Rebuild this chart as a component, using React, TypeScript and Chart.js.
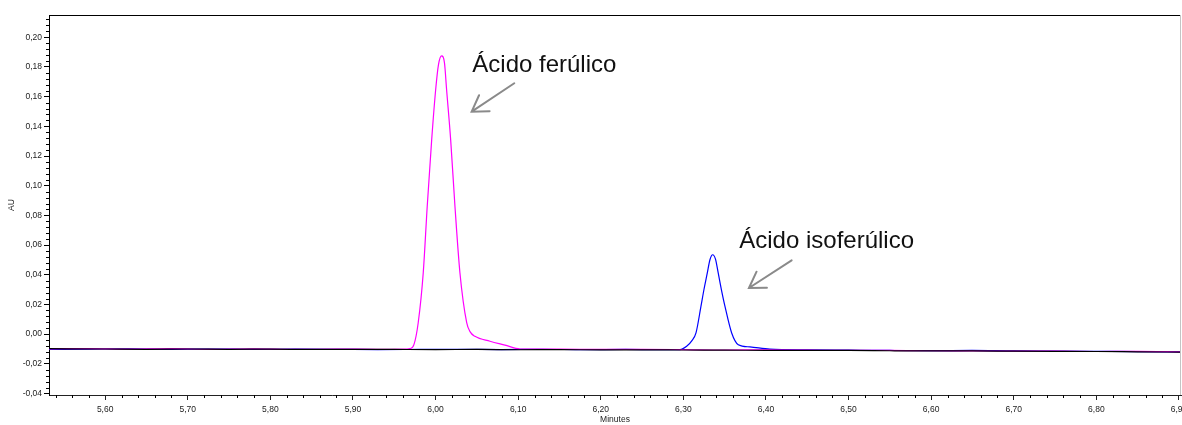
import React, { useEffect, useRef } from 'react';
import { Chart, registerables } from 'chart.js';

Chart.register(...registerables);

// ---- data (minutes, AU) ----
const FERULIC_T = [
  5.532, 5.58, 5.63, 5.68, 5.73, 5.78, 5.83, 5.88, 5.93, 5.965, 5.969, 5.9738,
  5.979, 5.9851, 5.9899, 5.9953, 6.0001, 6.0035, 6.0074, 6.0108, 6.0134, 6.0183,
  6.0235, 6.0295, 6.0377, 6.0417, 6.0477, 6.0659, 6.084, 6.1022, 6.15, 6.2, 6.25,
  6.3, 6.35, 6.4, 6.45, 6.5, 6.55, 6.6, 6.65, 6.7, 6.75, 6.8, 6.85, 6.9025,
];
const FERULIC_V = [
  -0.0099, -0.0097, -0.0101, -0.0098, -0.0102, -0.0099, -0.0103, -0.0101, -0.0102, -0.01, -0.0098, -0.0071,
  0.0077, 0.0414, 0.086, 0.1309, 0.1645, 0.1814, 0.1874, 0.1827, 0.1645, 0.1309,
  0.086, 0.0414, 0.0077, 0.0017, -0.0015, -0.0048, -0.0074, -0.01, -0.0101, -0.0103, -0.0102,
  -0.0104, -0.0107, -0.0106, -0.0108, -0.011, -0.0109, -0.0112, -0.0113, -0.0114, -0.0115, -0.0117, -0.0116, -0.012,
];

const ISOFERULIC_T = [
  5.532, 5.58, 5.63, 5.68, 5.73, 5.78, 5.83, 5.88, 5.93, 5.98, 6.03, 6.08, 6.13, 6.18, 6.23, 6.27,
  6.2959, 6.304, 6.3104, 6.3153, 6.3213, 6.3249, 6.329, 6.3322, 6.3355, 6.3389, 6.3422, 6.3461,
  6.3504, 6.3585, 6.3665, 6.3806, 6.4048, 6.45, 6.5, 6.55, 6.6, 6.65, 6.7, 6.75, 6.8, 6.85, 6.9025,
];
const ISOFERULIC_V = [
  -0.0103, -0.0101, -0.0099, -0.0102, -0.01, -0.0103, -0.0101, -0.0102, -0.0104, -0.0103, -0.0102, -0.0104, -0.0102, -0.0105, -0.0103, -0.0105,
  -0.0104, -0.0082, -0.0044, 0.0008, 0.0187, 0.0299, 0.0412, 0.0501, 0.0535, 0.0505, 0.0412, 0.0299,
  0.0187, 0.0008, -0.0071, -0.0086, -0.0101, -0.0106, -0.0108, -0.011, -0.0111, -0.011, -0.0113, -0.0114, -0.0116, -0.0118, -0.012,
];

const BLANK_T = [
  5.532, 5.6, 5.65, 5.7, 5.75, 5.8, 5.85, 5.9, 5.95, 6.0, 6.05, 6.1, 6.15, 6.2, 6.25, 6.3,
  6.35, 6.4, 6.45, 6.5, 6.55, 6.6, 6.65, 6.7, 6.75, 6.8, 6.85, 6.9025,
];
const BLANK_V = [
  -0.0098, -0.01, -0.0102, -0.01, -0.0102, -0.0101, -0.0103, -0.0102, -0.0103, -0.0104, -0.0103, -0.0105, -0.0104, -0.0106, -0.0106, -0.0107,
  -0.0108, -0.0109, -0.011, -0.011, -0.0112, -0.0113, -0.0113, -0.0115, -0.0116, -0.0117, -0.0119, -0.0121,
];

const X_TICKS = [5.6, 5.7, 5.8, 5.9, 6.0, 6.1, 6.2, 6.3, 6.4, 6.5, 6.6, 6.7, 6.8, 6.9];
const Y_TICKS = [-0.04, -0.02, 0.0, 0.02, 0.04, 0.06, 0.08, 0.1, 0.12, 0.14, 0.16, 0.18, 0.2];

const X_MIN = 5.532;
const X_MAX = 6.9025;
const Y_MIN = -0.041;
const Y_MAX = 0.215;

// annotation labels and arrows (data units)
const LABEL_TEXTS = ['Ácido ferúlico', 'Ácido isoferúlico'];
const LABEL_T = [6.0445, 6.3677];
const LABEL_V = [0.1764, 0.058];
const ARROW_TAIL_T = [6.0953, 6.4311];
const ARROW_TAIL_V = [0.169, 0.0497];
const ARROW_TIP_T = [6.0437, 6.3794];
const ARROW_TIP_V = [0.1499, 0.0311];

const FONT = "'Liberation Sans', Arial, sans-serif";
const fmt = (v: number) => v.toFixed(2).replace('.', ',').replace('-0,00', '0,00');

const zip = (t: number[], v: number[]) => t.map((x, i) => ({ x, y: v[i] }));

const decor = {
  id: 'decor',
  afterDatasetsDraw(chart: any) {
    const { ctx, chartArea: ca, scales } = chart;
    const x = scales.x;
    const y = scales.y;
    ctx.save();
    // frame
    ctx.lineWidth = 1;
    ctx.strokeStyle = '#000';
    ctx.beginPath();
    ctx.moveTo(ca.left, ca.top + 0.5);
    ctx.lineTo(ca.right, ca.top + 0.5);
    ctx.stroke();
    ctx.strokeStyle = '#c4c4c4';
    ctx.beginPath();
    ctx.moveTo(ca.right - 0.5, ca.top);
    ctx.lineTo(ca.right - 0.5, ca.bottom);
    ctx.stroke();
    // minor ticks
    ctx.strokeStyle = '#000';
    ctx.beginPath();
    for (let i = -12; i <= 60; i++) {
      const v = i * 0.004;
      if (v < Y_MIN || v > Y_MAX || i % 5 === 0) continue;
      const py = Math.round(y.getPixelForValue(v)) + 0.5;
      ctx.moveTo(ca.left - 3, py);
      ctx.lineTo(ca.left, py);
    }
    for (let i = 270; i <= 350; i++) {
      const v = i * 0.02;
      if (v < X_MIN || v > X_MAX || i % 5 === 0) continue;
      const px = Math.round(x.getPixelForValue(v)) + 0.5;
      ctx.moveTo(px, ca.bottom);
      ctx.lineTo(px, ca.bottom + 3);
    }
    ctx.stroke();
    // arrows
    ctx.strokeStyle = '#8a8a8a';
    ctx.lineWidth = 2;
    ctx.lineCap = 'round';
    for (let i = 0; i < ARROW_TIP_T.length; i++) {
      const tx = x.getPixelForValue(ARROW_TAIL_T[i]);
      const ty = y.getPixelForValue(ARROW_TAIL_V[i]);
      const hx = x.getPixelForValue(ARROW_TIP_T[i]);
      const hy = y.getPixelForValue(ARROW_TIP_V[i]);
      const ang = Math.atan2(ty - hy, tx - hx);
      const len = 18;
      const spread = 0.56;
      ctx.beginPath();
      ctx.moveTo(tx, ty);
      ctx.lineTo(hx, hy);
      ctx.moveTo(hx + len * Math.cos(ang - spread), hy + len * Math.sin(ang - spread));
      ctx.lineTo(hx, hy);
      ctx.lineTo(hx + len * Math.cos(ang + spread), hy + len * Math.sin(ang + spread));
      ctx.stroke();
    }
    // labels
    ctx.fillStyle = '#111';
    ctx.font = `24px ${FONT}`;
    ctx.textBaseline = 'alphabetic';
    ctx.textAlign = 'left';
    for (let i = 0; i < LABEL_TEXTS.length; i++) {
      ctx.fillText(LABEL_TEXTS[i], x.getPixelForValue(LABEL_T[i]), y.getPixelForValue(LABEL_V[i]));
    }
    ctx.restore();
  },
};

export default function App() {
  const ref = useRef<HTMLCanvasElement>(null);
  useEffect(() => {
    document.body.style.margin = '0';
    const canvas = ref.current;
    if (!canvas) return;
    const lineDs = (label: string, data: any[], color: string) => ({
      label,
      data,
      borderColor: color,
      borderWidth: 1.2,
      pointRadius: 0,
      fill: false,
      cubicInterpolationMode: 'monotone' as const,
    });
    const chart = new Chart(canvas, {
      type: 'line',
      data: {
        datasets: [
          lineDs('Blanco', zip(BLANK_T, BLANK_V), '#000000'),
          lineDs('Ácido ferúlico', zip(FERULIC_T, FERULIC_V), '#ff00ff'),
          lineDs('Ácido isoferúlico', zip(ISOFERULIC_T, ISOFERULIC_V), '#0000ff'),
        ],
      },
      options: {
        animation: false,
        responsive: true,
        maintainAspectRatio: false,
        layout: { padding: { top: 15, right: 1, left: 0, bottom: 0 } },
        plugins: { legend: { display: false }, tooltip: { enabled: false } },
        scales: {
          x: {
            type: 'linear',
            min: X_MIN,
            max: X_MAX,
            afterBuildTicks: (s: any) => {
              s.ticks = X_TICKS.map((value) => ({ value }));
            },
            afterFit: (s: any) => {
              s.height = 30;
              s.paddingLeft = 0;
              s.paddingRight = 0;
            },
            ticks: {
              autoSkip: false,
              maxRotation: 0,
              padding: 5,
              color: '#222',
              font: { family: FONT, size: 8.5 },
              callback: (v: any) => fmt(Number(v)),
            },
            grid: { drawOnChartArea: false, drawTicks: true, tickLength: 5, color: '#222' },
            border: { display: true, color: '#222', width: 1 },
            title: {
              display: true,
              text: 'Minutes',
              color: '#222',
              font: { family: FONT, size: 8.5 },
              padding: { top: 0, bottom: 0 },
            },
          },
          y: {
            type: 'linear',
            min: Y_MIN,
            max: Y_MAX,
            afterBuildTicks: (s: any) => {
              s.ticks = Y_TICKS.map((value) => ({ value }));
            },
            afterFit: (s: any) => {
              s.width = 49;
              s.paddingTop = 0;
              s.paddingBottom = 0;
            },
            ticks: {
              padding: 2,
              color: '#222',
              font: { family: FONT, size: 8.5 },
              callback: (v: any) => fmt(Number(v)),
            },
            grid: { drawOnChartArea: false, drawTicks: true, tickLength: 5, color: '#000' },
            border: { display: true, color: '#000', width: 1 },
            title: {
              display: true,
              text: 'AU',
              color: '#222',
              font: { family: FONT, size: 8.5 },
              padding: { top: 7, bottom: 0 },
            },
          },
        },
      },
      plugins: [decor],
    });
    return () => chart.destroy();
  }, []);
  return (
    <div style={{ position: 'relative', width: 1182, height: 425 }}>
      <canvas ref={ref} />
    </div>
  );
}
